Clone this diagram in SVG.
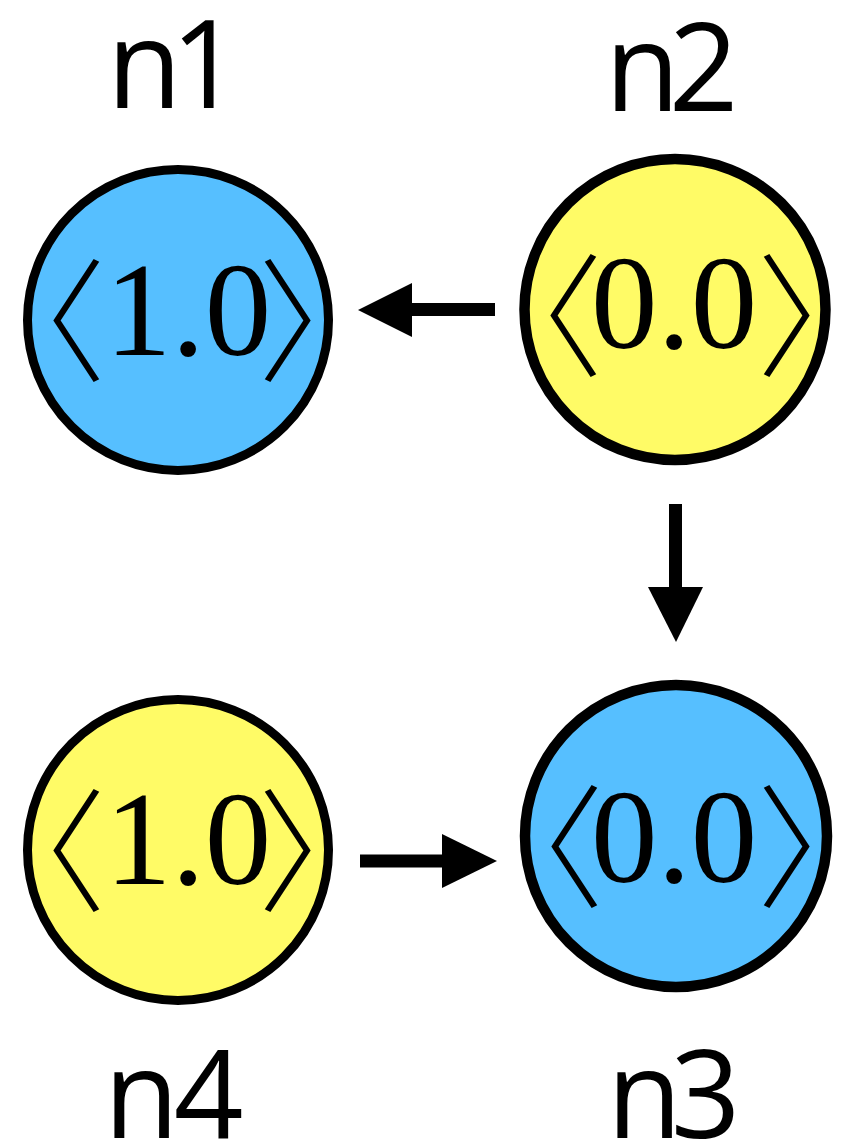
<svg xmlns="http://www.w3.org/2000/svg" width="841" height="1148" viewBox="0 0 841 1148">
<style>
.blue{fill:#56bfff}
.yellow{fill:#fffb66}
.thin{stroke:#000;stroke-width:9}
.thick{stroke:#000;stroke-width:10.5}
.lbl{font-family:"Open Sans",Lato,sans-serif;font-weight:500;font-size:122px;letter-spacing:-11px;fill:#000}
.num{font-family:"Liberation Serif",serif;font-size:133px;fill:#000}
.br{font-family:"Noto Sans CJK JP",sans-serif;font-weight:300;font-size:133px;font-feature-settings:"halt" 1;fill:#000}
.edge{stroke:#000;stroke-width:13;fill:none}
.head{fill:#000}
</style>
<rect width="841" height="1148" fill="#fff"/>
<g id="connectors">
<line class="edge" x1="495" y1="309.5" x2="410" y2="309.5"/>
<polygon class="head" points="358,310 412,283 412,337"/>
<line class="edge" x1="675.5" y1="504" x2="675.5" y2="589"/>
<polygon class="head" points="676,642 648,587 703,587"/>
<line class="edge" x1="360" y1="861" x2="444" y2="861"/>
<polygon class="head" points="497,861 442,834 442,888"/>
</g>
<g id="n1">
<circle class="blue thin" cx="178" cy="320" r="150.5"/>
<text class="lbl" x="107" y="108">n1</text>
<text><tspan class="br" x="39.5" y="371">〈</tspan><tspan class="num" x="105" y="355">1.0</tspan><tspan class="br" x="258" y="371">〉</tspan></text>
</g>
<g id="n2">
<circle class="yellow thick" cx="675" cy="309.5" r="150.5"/>
<text class="lbl" x="605" y="111">n2</text>
<text><tspan class="br" x="536.5" y="366">〈</tspan><tspan class="num" x="591" y="348">0.0</tspan><tspan class="br" x="757" y="366">〉</tspan></text>
</g>
<g id="n3">
<circle class="blue thick" cx="676" cy="836" r="151"/>
<text class="lbl" x="607" y="1138">n3</text>
<text><tspan class="br" x="537.5" y="897">〈</tspan><tspan class="num" x="591" y="882">0.0</tspan><tspan class="br" x="757" y="897">〉</tspan></text>
</g>
<g id="n4">
<circle class="yellow thin" cx="178" cy="850" r="150.5"/>
<text class="lbl" x="104" y="1138" style="letter-spacing:-5px">n4</text>
<text><tspan class="br" x="39.5" y="901">〈</tspan><tspan class="num" x="105" y="884">1.0</tspan><tspan class="br" x="258" y="901">〉</tspan></text>
</g>
</svg>
